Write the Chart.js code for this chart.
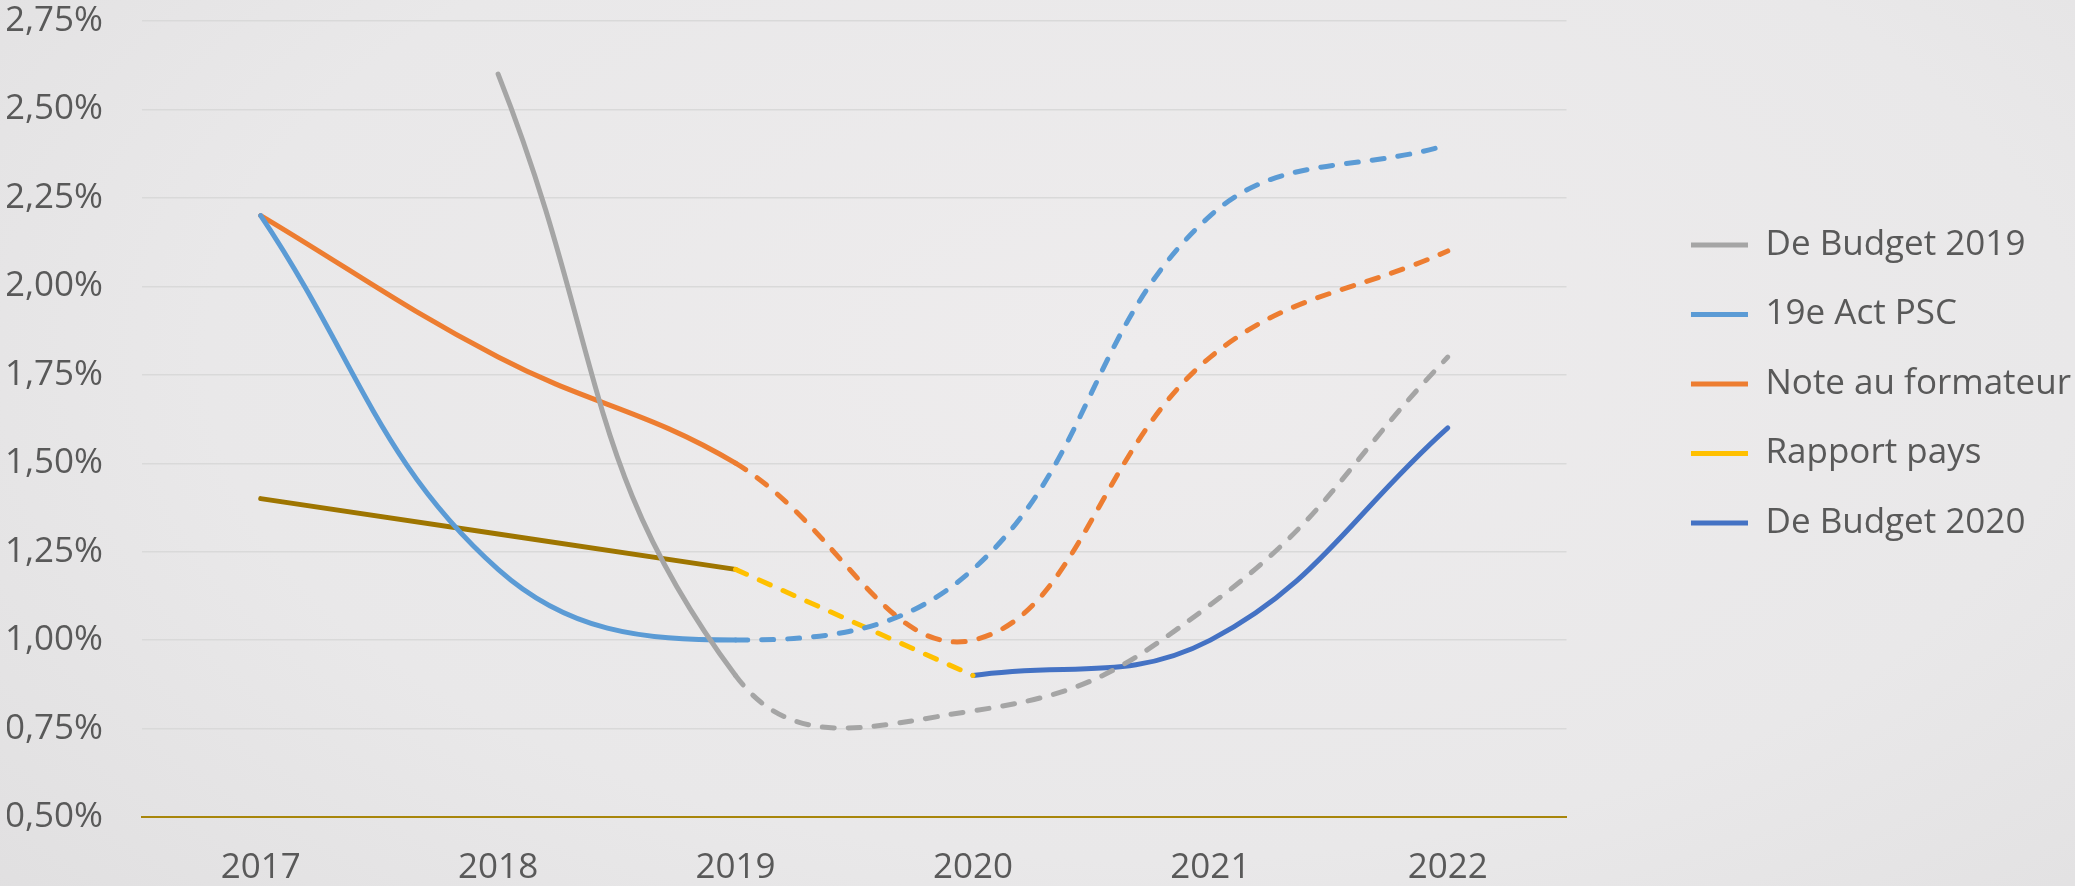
<!DOCTYPE html>
<html lang="fr">
<head>
<meta charset="utf-8">
<title>Prévisions</title>
<script src="https://cdn.jsdelivr.net/npm/chart.js@4.4.1/dist/chart.umd.min.js"></script>
<style>
  html, body {
    margin: 0;
    padding: 0;
  }
  body {
    width: 2075px;
    height: 886px;
    overflow: hidden;
    background: radial-gradient(ellipse 75% 95% at 55% 40%, #eeeced 0%, #e9e8e9 60%, #e0dfe0 100%);
  }
  #wrap {
    position: relative;
    width: 2075px;
    height: 886px;
  }
</style>
</head>
<body>
<div id="wrap"><canvas id="chart"></canvas></div>
<script>
// années (axe X)
const years = ['2017', '2018', '2019', '2020', '2021', '2022'];

// valeurs en %
const budget2019 = [null, 2.60, 0.90, 0.80, 1.10, 1.80];
const actPSC = [2.20, 1.20, 1.00, 1.20, 2.20, 2.40];
const noteFormateur = [2.20, 1.80, 1.50, 1.00, 1.80, 2.10];
const rapportPays = [1.40, 1.30, 1.20, 0.90, null, null];
const budget2020 = [null, null, null, 0.90, 1.00, 1.60];

// réalisé jusqu'en 2019, prévision ensuite (pointillés)
const firstForecast = 2;
const dash = [12, 14];
const textColor = '#595959';
const fontFamily = "'Open Sans', 'Noto Sans', sans-serif";

function forecastDash(ctx) {
    return ctx.p0DataIndex >= firstForecast ? dash : undefined;
}

// la mise en page limite la largeur de la légende (1/6 de la largeur avec 3 boîtes verticales),
// on lève cette limite pour que les libellés tiennent sur une ligne
const wideLegend = {
    id: 'wideLegend',
    beforeLayout(chart) {
        const legend = chart.legend;
        if (legend && !legend._wide) {
            const fit = legend.fit;
            legend.fit = function () {
                this.maxWidth = 1000;
                fit.call(this);
            };
            legend._wide = true;
        }
    }
};

const ctx = document.getElementById('chart').getContext('2d');

const chart = new Chart(ctx, {
    type: 'line',
    data: {
        labels: years,
        datasets: [
            {
                label: 'De Budget 2019',
                data: budget2019,
                borderColor: '#a5a5a5',
                borderWidth: 5,
                tension: 0.45,
                segment: { borderDash: forecastDash }
            },
            {
                label: '19e Act PSC',
                data: actPSC,
                borderColor: '#5b9bd5',
                borderWidth: 5,
                tension: 0.4,
                segment: { borderDash: forecastDash }
            },
            {
                label: 'Note au formateur',
                data: noteFormateur,
                borderColor: '#ed7d31',
                borderWidth: 5,
                tension: 0.4,
                segment: { borderDash: forecastDash }
            },
            {
                label: 'Rapport pays',
                data: rapportPays,
                borderColor: '#ffc000',
                borderWidth: 5,
                tension: 0,
                segment: {
                    borderDash: forecastDash,
                    borderColor: c => c.p0DataIndex >= firstForecast ? '#ffc000' : '#9e7500'
                }
            },
            {
                label: 'De Budget 2020',
                data: budget2020,
                borderColor: '#4472c4',
                borderWidth: 5,
                tension: 0.4
            }
        ]
    },
    plugins: [wideLegend],
    options: {
        responsive: true,
        maintainAspectRatio: false,
        animation: false,
        elements: {
            point: { radius: 0, hoverRadius: 0 },
            line: { borderCapStyle: 'round', borderJoinStyle: 'round' }
        },
        layout: {
            padding: { left: 7, right: -6, top: 0, bottom: 0 }
        },
        plugins: {
            tooltip: { enabled: false },
            legend: {
                position: 'right',
                align: 'start',
                // titre vide : sert juste à descendre la légende
                title: { display: true, text: '', font: { size: 10 }, padding: { top: 181, bottom: 0 } },
                labels: {
                    usePointStyle: true,
                    pointStyle: 'line',
                    pointStyleWidth: 57,
                    padding: 34.5,
                    color: textColor,
                    font: { family: fontFamily, size: 35 }
                }
            }
        },
        scales: {
            x: {
                offset: true,
                grid: { display: false, drawTicks: false },
                border: { display: true, color: '#a8860b', width: 2, dash: [5, 2.5] },
                ticks: {
                    color: textColor,
                    padding: 30,
                    font: { family: fontFamily, size: 35 }
                },
                afterFit: s => {
                    s.height = 69;
                    s.paddingLeft = 0;
                    s.paddingRight = 0;
                }
            },
            y: {
                min: 0.5,
                max: 2.75,
                grid: {
                    drawTicks: false,
                    lineWidth: 1.4,
                    color: c => c.tick && c.tick.value === 0.5 ? 'rgba(0,0,0,0)' : '#d9d9d9'
                },
                border: { display: false },
                ticks: {
                    stepSize: 0.25,
                    color: textColor,
                    padding: 39,
                    font: { family: fontFamily, size: 35 },
                    callback: v => v.toFixed(2).replace('.', ',') + '%'
                },
                afterFit: s => {
                    s.width = 135;
                    s.paddingTop = 21;
                    s.paddingBottom = 0;
                }
            },
            // axe vide à droite : laisse l'espace entre le tracé et la légende
            spacer: {
                position: 'right',
                grid: { display: false },
                border: { display: false },
                ticks: { display: false },
                afterFit: s => {
                    s.width = 90;
                    s.paddingTop = 0;
                    s.paddingBottom = 0;
                }
            }
        }
    }
});
</script>
</body>
</html>
